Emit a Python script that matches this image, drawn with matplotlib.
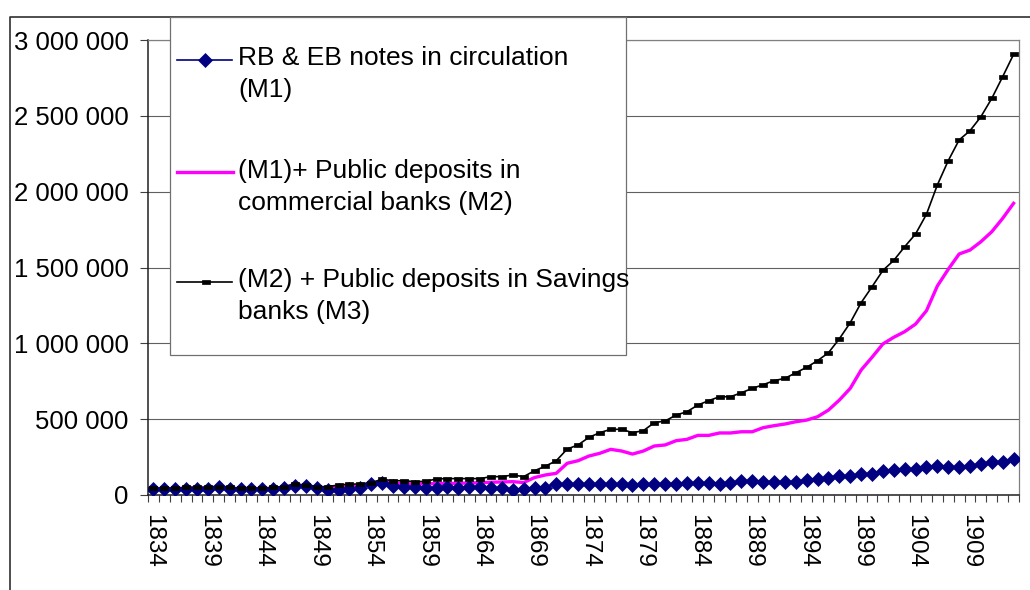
import numpy as np
import matplotlib.pyplot as plt
from matplotlib.lines import Line2D
from matplotlib.patches import Rectangle
from matplotlib.transforms import Affine2D
from matplotlib.ticker import FuncFormatter, MultipleLocator

plt.rcParams['font.family'] = ['Liberation Sans', 'DejaVu Sans']

years = np.arange(1834, 1914)

# values in thousands
m1 = [38, 38, 38, 42, 42, 42, 51, 42, 38, 38, 38, 42, 45, 59, 57, 45, 35, 33, 40, 48,
      70, 77, 62, 55, 50, 48, 48, 50, 48, 50, 50, 48, 45, 35, 40, 44, 48,
      75, 73, 70, 72, 73, 75, 72, 68, 70, 73, 75, 75, 77,
      77, 77, 70, 77, 94, 94, 88, 88, 88, 88, 99, 103, 114, 125, 125, 138, 138, 160,
      165, 169, 169, 182, 191, 182, 187, 191, 202, 218, 218, 235]
m2 = [40, 40, 40, 46, 46, 46, 53, 46, 40, 40, 40, 46, 50, 66, 60, 50, 45, 50, 56, 62,
      76, 90, 78, 75,
      73, 74, 75, 76, 77, 79, 81, 84, 86, 88, 82, 115, 132, 143,
      209, 226, 257, 275, 301, 290, 270, 290, 323, 330, 358, 367, 393, 393, 409, 409,
      417, 417, 444, 457, 468, 483, 494, 516, 560, 626, 703, 824, 908, 996, 1040, 1077,
      1127, 1215, 1378, 1488, 1589, 1615, 1670, 1736, 1824, 1923]
m3 = [43, 43, 43, 51, 51, 51, 56, 51, 43, 43, 43, 51, 55, 73, 64, 55, 55, 66, 71, 73,
      81, 104, 94, 94, 88, 90, 106,
      108, 108, 108, 108, 121, 121, 132, 121, 160, 190, 226, 303, 330, 380, 411, 433,
      433, 411, 424, 477, 488, 527, 549, 593, 622, 648, 648, 674, 703, 727, 754, 769,
      806, 842, 886, 938, 1030, 1136, 1268, 1373,
      1481, 1547, 1637, 1721, 1851, 2044, 2204, 2341, 2402, 2494, 2615, 2758, 2905]

legend_lines = [["RB & EB notes in circulation", "(M1)"],
                ["(M1)+ Public deposits in", "commercial banks (M2)"],
                ["(M2) + Public deposits in Savings", "banks (M3)"]]

m1v = np.array(m1) * 1000
m2v = np.array(m2) * 1000
m3v = np.array(m3) * 1000

NAVY = '#000080'
PINK = '#FF00FF'
rect = [(-1, -0.55), (1, -0.55), (1, 0.55), (-1, 0.55), (-1, -0.55)]

W, H = 1030, 590
fig = plt.figure(figsize=(W / 100, H / 100), dpi=100)
px = Affine2D().scale(1 / W, -1 / H).translate(0, 1) + fig.transFigure

ax = fig.add_axes([148 / W, 1 - 495 / H, 871 / W, 455 / H])
x = np.arange(len(years))

# lines first, markers on top (as the spreadsheet draws them)
ax.plot(x, m1v, color=NAVY, lw=1.2, zorder=2)
ax.plot(x, m2v, color=PINK, lw=2.4, zorder=2)
ax.plot(x, m3v, color='black', lw=1.2, zorder=2)
ax.plot(x, m1v, ls='none', marker='D', ms=7.4, color=NAVY, mew=0.5, zorder=3)
ax.plot(x, m3v, ls='none', marker=rect, ms=5.8, color='black', mew=0.5, zorder=4)

ax.set_xlim(-0.5, len(years) - 0.5)
ax.set_ylim(0, 3_000_000)
ax.yaxis.set_major_locator(MultipleLocator(500_000))
ax.yaxis.set_major_formatter(FuncFormatter(lambda v, p: f"{v:,.0f}".replace(",", " ")))
ax.grid(axis='y', color='#606060', lw=0.8)
ax.set_axisbelow(True)

ax.set_xticks(x[::5])
ax.set_xticklabels([str(y) for y in years[::5]], rotation=-90)
ax.set_xticks(np.arange(len(years) + 1) - 0.5, minor=True)
ax.tick_params(axis='x', which='major', length=0, pad=14, labelsize=17.5)
ax.tick_params(axis='x', which='minor', length=5, width=0.8, color='#404040', direction='out')
ax.tick_params(axis='y', length=5.8, width=0.8, color='#404040', pad=8, labelsize=18.5,
               direction='out')

for s in ['left', 'bottom']:
    ax.spines[s].set_color('#202020')
    ax.spines[s].set_linewidth(1.1)
for s in ['top', 'right']:
    ax.spines[s].set_color('#808080')
    ax.spines[s].set_linewidth(0.9)

# outer chart-area border (cropped at right and bottom)
fig.add_artist(Line2D([9.5, 9.5, 1040], [600, 17, 17], transform=px,
                      color='#303030', lw=1.2))

# legend box
fig.add_artist(Rectangle((170, 17), 456, 338, transform=px, facecolor='white',
                         edgecolor='#707070', lw=0.9, zorder=5))
hy = [60, 172, 282]
base = [65, 178, 287]
fig.add_artist(Line2D([177, 232], [hy[0]] * 2, transform=px, color=NAVY, lw=1.2, zorder=6))
fig.add_artist(Line2D([204.5], [hy[0]], transform=px, color=NAVY, marker='D', ms=7.0,
                      mew=0.5, zorder=7))
fig.add_artist(Line2D([177, 233], [hy[1]] * 2, transform=px, color=PINK, lw=2.4, zorder=6))
fig.add_artist(Line2D([177, 232], [hy[2]] * 2, transform=px, color='black', lw=1.2, zorder=6))
fig.add_artist(Line2D([206], [hy[2]], transform=px, color='black', marker=rect, ms=5.8,
                      mew=0.5, zorder=7))
for b, lines in zip(base, legend_lines):
    for i, s in enumerate(lines):
        fig.text(238, b + i * 32, s, transform=px, fontsize=19, ha='left',
                 va='baseline', zorder=8)

fig.savefig('out.png', dpi=100)
